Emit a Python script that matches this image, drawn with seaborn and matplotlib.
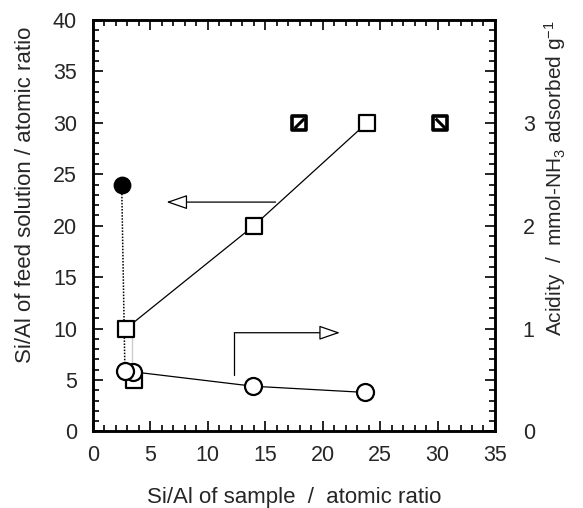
import matplotlib
matplotlib.use("Agg")
import matplotlib.pyplot as plt
from matplotlib.path import Path
from matplotlib.ticker import MultipleLocator, FixedLocator, NullLocator
import pandas as pd
import seaborn as sns

# Si/Al of feed solution against Si/Al measured in the product
sample_sial = [2.87, 14.0, 23.85]
feed_sial = [10, 20, 30]
low_sample_sial = [3.57]
low_feed_sial = [5]
# vertical tie between the two lowest feed ratios
tie_x = [3.4, 3.4]
tie_y = [5, 10]
# products obtained outside the series (hatched squares)
hatch_up_x = [17.9]
hatch_down_x = [30.2]
hatch_y = [30, 30]
# starting gel composition (filled circle)
gel_x = [2.5]
gel_y = [24]
# acidity (right axis)
acid_x = [3.5, 13.95, 23.67]
acid_y = [0.58, 0.44, 0.38]
acid_gel_x = [2.78]
acid_gel_y = [0.59]

x_ticks = [0, 5, 10, 15, 20, 25, 30, 35]
left_ticks = [0, 5, 10, 15, 20, 25, 30, 35, 40]
right_ticks = [0, 1, 2, 3]

sns.set_style("ticks")
plt.rcParams["font.family"] = ["Liberation Sans", "DejaVu Sans"]
plt.rcParams["mathtext.fontset"] = "custom"
plt.rcParams["mathtext.rm"] = "Liberation Sans"
plt.rcParams["mathtext.it"] = "Liberation Sans"

fig = plt.figure(figsize=(5.83, 5.08), dpi=100)
ax = fig.add_axes([0.1595, 0.1506, 0.6895, 0.81])
ax2 = ax.twinx()

series = pd.DataFrame({"sample": sample_sial, "feed": feed_sial})
acid = pd.DataFrame({"sample": acid_x, "acidity": acid_y})

lw = 0.9
mk = dict(color="black", linewidth=lw, zorder=2)

# lines
sns.lineplot(data=series, x="sample", y="feed", sort=False, ax=ax, **mk)
sns.lineplot(x=tie_x, y=tie_y, sort=False, ax=ax, **mk)
ax.plot(gel_x + acid_gel_x, gel_y + [v * 10 for v in acid_gel_y],
        color="black", linestyle=(0, (1, 1)), linewidth=1.1, zorder=2)
sns.lineplot(data=acid, x="sample", y="acidity", sort=False, ax=ax2, **mk)

# markers
sq = dict(marker="s", s=120, facecolor="white", edgecolor="black",
          linewidth=1.6, zorder=4)
sns.scatterplot(data=series, x="sample", y="feed", ax=ax, **sq)
sns.scatterplot(x=low_sample_sial, y=low_feed_sial, ax=ax, **sq)
hs = dict(marker="s", s=95, facecolor="white", edgecolor="black",
          linewidth=2.6, zorder=4)
sns.scatterplot(x=hatch_up_x + hatch_down_x, y=hatch_y, ax=ax, **hs)
up = Path([(-1, -1), (1, 1)], [Path.MOVETO, Path.LINETO])
down = Path([(-1, 1), (1, -1)], [Path.MOVETO, Path.LINETO])
ax.plot(hatch_up_x, hatch_y[:1], marker=up, markersize=7, linestyle="none",
        color="black", markeredgewidth=2.2, zorder=5)
ax.plot(hatch_down_x, hatch_y[1:], marker=down, markersize=7, linestyle="none",
        color="black", markeredgewidth=2.2, zorder=5)
sns.scatterplot(x=gel_x, y=gel_y, ax=ax, marker="o", s=140, color="black",
                edgecolor="black", linewidth=1, zorder=4)

ci = dict(marker="o", s=150, facecolor="white", edgecolor="black",
          linewidth=1.6, zorder=4)
sns.scatterplot(data=acid, x="sample", y="acidity", ax=ax2, **ci)
sns.scatterplot(x=acid_gel_x, y=acid_gel_y, ax=ax2, **ci)

# arrows pointing to the relevant axis
head = dict(arrowstyle="-|>,head_length=1.3,head_width=0.45",
            facecolor="white", edgecolor="black", linewidth=lw,
            shrinkA=0, shrinkB=0)
ax.annotate("", xy=(6.4, 22.3), xytext=(15.9, 22.3), arrowprops=head)
ax.plot([12.3, 12.3], [5.5, 9.6], color="black", linewidth=lw)
ax.annotate("", xy=(21.5, 9.6), xytext=(12.3, 9.6), arrowprops=head)

# axes
ax.set_xlim(0, 35)
ax.set_ylim(0, 40)
ax2.set_ylim(0, 4)
ax.xaxis.set_major_locator(FixedLocator(x_ticks))
ax.xaxis.set_minor_locator(MultipleLocator(1))
ax.yaxis.set_major_locator(FixedLocator(left_ticks))
ax.yaxis.set_minor_locator(MultipleLocator(1))
ax2.yaxis.set_major_locator(FixedLocator(right_ticks))
ax2.yaxis.set_minor_locator(NullLocator())

ax.tick_params(which="both", direction="in", top=True, right=True,
               labelsize=15.5, width=1.2, color="black")
ax.tick_params(axis="x", which="both", pad=10)
ax.tick_params(axis="y", which="both", pad=11.5)
ax.tick_params(which="major", length=7)
ax.tick_params(which="minor", length=4)
ax2.tick_params(axis="y", which="both", length=0, labelsize=15.5, pad=20)

for a in (ax, ax2):
    for sp in a.spines.values():
        sp.set_linewidth(1.8)
        sp.set_color("black")

ax.set_xlabel("Si/Al of sample  /  atomic ratio", fontsize=16, labelpad=15)
ax.set_ylabel("Si/Al of feed solution / atomic ratio", fontsize=16,
              labelpad=12, y=0.575)
ax2.set_ylabel(r"Acidity  /  mmol-NH$_3$ adsorbed g$^{-1}$", fontsize=15,
               labelpad=5, y=0.616)

fig.savefig("out.png", dpi=100, facecolor="white")
